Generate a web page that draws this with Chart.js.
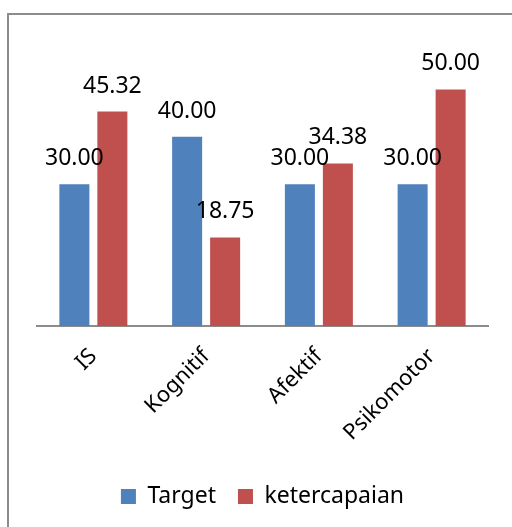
<!DOCTYPE html>
<html>
<head>
<meta charset="utf-8">
<script src="https://cdn.jsdelivr.net/npm/chart.js@4.4.1/dist/chart.umd.min.js"></script>
<style>
  html, body { margin: 0; padding: 0; background: #fff; width: 512px; height: 527px; overflow: hidden; }
  #wrap { position: absolute; left: 0; top: 0; width: 512px; height: 527px; }
</style>
</head>
<body>
<div id="wrap"><canvas id="chart"></canvas></div>
<script>
const categories = ['IS', 'Kognitif', 'Afektif', 'Psikomotor'];
const target = [30.00, 40.00, 30.00, 30.00];
const ketercapaian = [45.32, 18.75, 34.38, 50.00];

// outer chart frame
const frame = {
  id: 'frame',
  beforeDraw(chart) {
    const ctx = chart.ctx;
    ctx.save();
    ctx.fillStyle = '#8c8c8c';
    ctx.fillRect(7, 13, chart.width, 2);
    ctx.fillRect(7, 13, 2, chart.height);
    ctx.restore();
  }
};

// draws the value above each bar
const valueLabels = {
  id: 'valueLabels',
  afterDatasetsDraw(chart) {
    const ctx = chart.ctx;
    ctx.save();
    ctx.font = '23px "Noto Sans"';
    ctx.fillStyle = '#000';
    ctx.textAlign = 'center';
    ctx.textBaseline = 'alphabetic';
    chart.data.datasets.forEach((ds, i) => {
      chart.getDatasetMeta(i).data.forEach((bar, j) => {
        ctx.fillText(ds.data[j].toFixed(2), bar.x, bar.y - 19);
      });
    });
    ctx.restore();
  }
};

new Chart(document.getElementById('chart'), {
  type: 'bar',
  data: {
    labels: categories,
    datasets: [{
      label: 'Target',
      data: target,
      backgroundColor: '#4F81BD',
      categoryPercentage: 0.674,
      barPercentage: 0.79
    }, {
      label: 'ketercapaian',
      data: ketercapaian,
      backgroundColor: '#C0504D',
      categoryPercentage: 0.674,
      barPercentage: 0.79
    }]
  },
  options: {
    responsive: true,
    maintainAspectRatio: false,
    animation: false,
    layout: { padding: { left: 37, right: 24, top: 42, bottom: 9 } },
    scales: {
      y: {
        display: false,
        min: 0,
        max: 60
      },
      x: {
        grid: { display: false, drawTicks: false },
        border: { display: true, color: '#8c8c8c', width: 2 },
        ticks: {
          color: '#000',
          font: { family: 'Noto Sans', size: 22 },
          maxRotation: 45,
          minRotation: 45,
          padding: 17
        }
      }
    },
    plugins: {
      legend: {
        position: 'bottom',
        labels: {
          color: '#000',
          font: { family: 'Noto Sans', size: 23 },
          boxWidth: 15,
          boxHeight: 15,
          padding: 22
        }
      },
      tooltip: { enabled: false }
    }
  },
  plugins: [frame, valueLabels]
});
</script>
</body>
</html>
